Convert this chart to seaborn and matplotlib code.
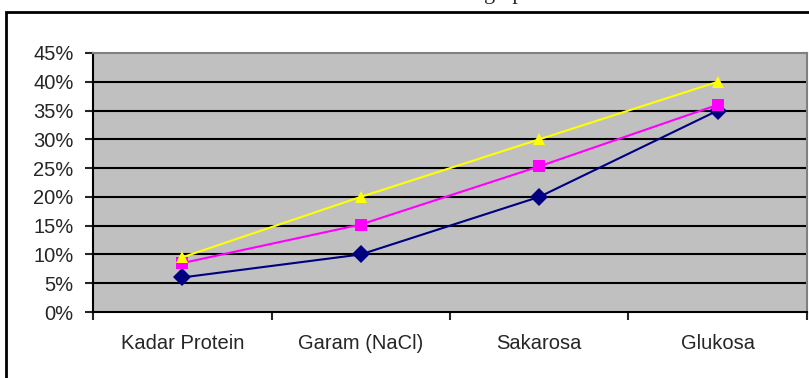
import pandas as pd
import matplotlib
matplotlib.use("Agg")
import matplotlib.pyplot as plt
import seaborn as sns
from matplotlib.ticker import PercentFormatter, FixedLocator
from matplotlib.patches import Rectangle

categories = ["Kadar Protein", "Garam (NaCl)", "Sakarosa", "Glukosa"]
seri_biru = [6, 10, 20, 35]
seri_magenta = [8.5, 15.2, 25.3, 36]
seri_kuning = [9.5, 20, 30, 40]
y_ticks = [0, 5, 10, 15, 20, 25, 30, 35, 40, 45]

df = pd.DataFrame({
    "kategori": categories * 3,
    "nilai": seri_biru + seri_magenta + seri_kuning,
    "seri": ["biru"] * 4 + ["magenta"] * 4 + ["kuning"] * 4,
})

sns.set_style("white")
plt.rcParams["font.family"] = ["Liberation Sans", "DejaVu Sans"]

fig = plt.figure(figsize=(8.09, 3.78), dpi=100)
ax = fig.add_axes([0.115, 0.1746, 0.8825, 0.6852])

# frame around the whole chart (cut off at right/bottom)
fig.patches.append(Rectangle((6 / 809, -0.05), 1.2, (378 - 12) / 378 + 0.05,
                             transform=fig.transFigure, fill=False,
                             edgecolor="black", linewidth=2))
# title, only the descenders show at the top edge
fig.text(484 / 809, 1 + 1 / 378, "grapik", family="Liberation Serif",
         fontsize=16, va="baseline", ha="left")

ax.set_facecolor("#C0C0C0")
for y in y_ticks[1:-1]:
    ax.axhline(y, color="black", linewidth=1.5, zorder=1)

palette = {"biru": "#000080", "magenta": "#FF00FF", "kuning": "#FFFF00"}
markers = {"biru": "D", "magenta": "s", "kuning": "^"}
sns.lineplot(data=df, x="kategori", y="nilai", hue="seri", style="seri",
             palette=palette, markers=markers, dashes=False, markersize=9,
             markeredgewidth=0, linewidth=1.5, legend=False, ax=ax, zorder=3)

ax.set_xlim(-0.5, 3.5)
ax.set_ylim(0, 45)
ax.set_yticks(y_ticks)
ax.yaxis.set_major_formatter(PercentFormatter(decimals=0))
ax.set_xticks(range(4))
ax.set_xticklabels(categories)
ax.xaxis.set_minor_locator(FixedLocator([-0.5, 0.5, 1.5, 2.5, 3.5]))
ax.tick_params(axis="x", which="major", length=0, pad=16, labelsize=14.5)
ax.tick_params(axis="x", which="minor", length=6, width=1.5, direction="out",
               bottom=True)
ax.tick_params(axis="y", length=6, width=1.5, direction="out", left=True,
               pad=8, labelsize=14.5)
ax.set_xlabel("")
ax.set_ylabel("")

for side in ["left", "bottom"]:
    ax.spines[side].set_color("black")
    ax.spines[side].set_linewidth(1.5)
for side in ["top", "right"]:
    ax.spines[side].set_color("#808080")
    ax.spines[side].set_linewidth(1.5)

fig.savefig("out.png", dpi=100)
